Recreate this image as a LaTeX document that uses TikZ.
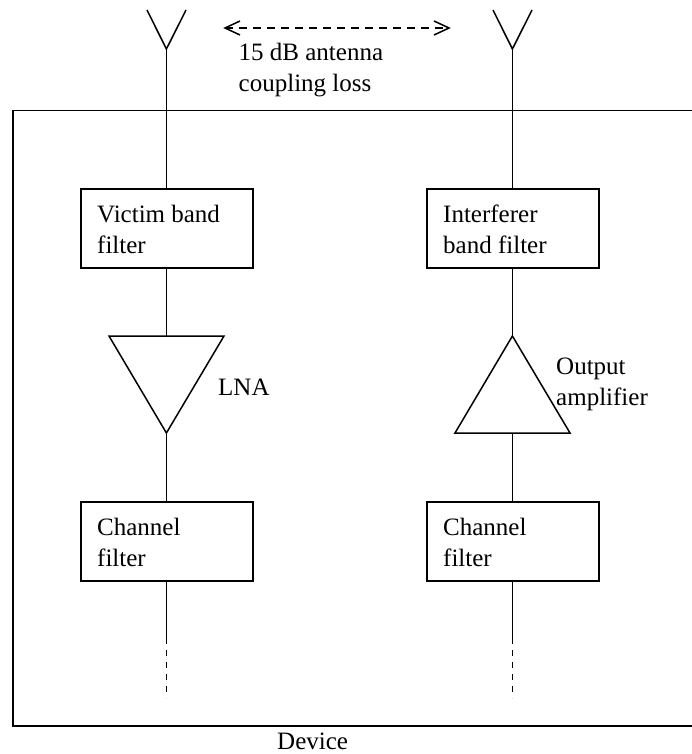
\documentclass[tikz,border=0pt]{standalone}
\usepackage{fontspec}
\setmainfont{Liberation Serif}
\begin{document}
\begin{tikzpicture}[x=1pt,y=-1pt,
  ln/.style={draw=black,line width=1.5pt},
  fbox/.style={ln,minimum width=172pt,minimum height=79pt,inner sep=0pt},
  lbl/.style={anchor=north west,inner sep=0pt,align=left,font=\fontsize{25}{30.5}\selectfont}]
\useasboundingbox (0,0) rectangle (692,754);
% device frame
\draw[ln] (692,110.5) -- (13,110.5) -- (13,726) -- (692,726);
% filters
\node[fbox] (vb) at (167,228.5) {};
\node[fbox] (ib) at (513,228.5) {};
\node[fbox] (cl) at (167,541.5) {};
\node[fbox] (cr) at (513,541.5) {};
\node[lbl] (tvb) at (97,205) {Victim band\\filter};
\node[lbl] (tib) at (443,205) {Interferer\\band filter};
\node[lbl] (tcl) at (97,518) {Channel\\filter};
\node[lbl] (tcr) at (443,518) {Channel\\filter};
% amplifiers
\coordinate (lt) at (166.4,433);
\coordinate (rt) at (512.4,336);
\draw[ln,line join=miter] (109,336) -- (224,336) -- (lt) -- cycle;
\draw[ln,line join=miter] (455,433) -- (570,433) -- (rt) -- cycle;
\node[lbl] (tlna) at (218,378.5) {LNA};
\node[lbl] (tout) at (556,358) {Output\\amplifier};
% antennas
\coordinate (al) at (166.4,49);
\coordinate (ar) at (512.4,49);
\draw[ln] (147,10) -- (al) -- (186,10);
\draw[ln] (493,10) -- (ar) -- (532,10);
\draw[ln] (al) -- (al |- vb.north);
\draw[ln] (ar) -- (ar |- ib.north);
\draw[ln] (al |- vb.south) -- (al |- 0,336);
\draw[ln] (ar |- ib.south) -- (rt);
\draw[ln] (lt) -- (al |- cl.north);
\draw[ln] (ar |- 0,433) -- (ar |- cr.north);
% open ends
\coordinate (el) at (166.4,638);
\coordinate (er) at (512.4,638);
\coordinate (dl) at (166.4,698);
\coordinate (dr) at (512.4,698);
\draw[ln] (el |- cl.south) -- (el);
\draw[ln] (er |- cr.south) -- (er);
\draw[ln,dash pattern=on 6pt off 6pt] (el) -- (dl);
\draw[ln,dash pattern=on 6pt off 6pt] (er) -- (dr);
% coupling arrow
\coordinate (a1) at (225,28);
\coordinate (a2) at (449,28);
\draw[ln,dash pattern=on 8pt off 6pt] (a1) -- (a2);
\draw[ln] (240,21) -- (a1) -- (240,35);
\draw[ln] (434,21) -- (a2) -- (434,35);
\node[lbl] (tcoup) at (238.5,43) {15 dB antenna\\coupling loss};
\node[lbl] (tdev) at (277,733) {Device};
\end{tikzpicture}
\end{document}
